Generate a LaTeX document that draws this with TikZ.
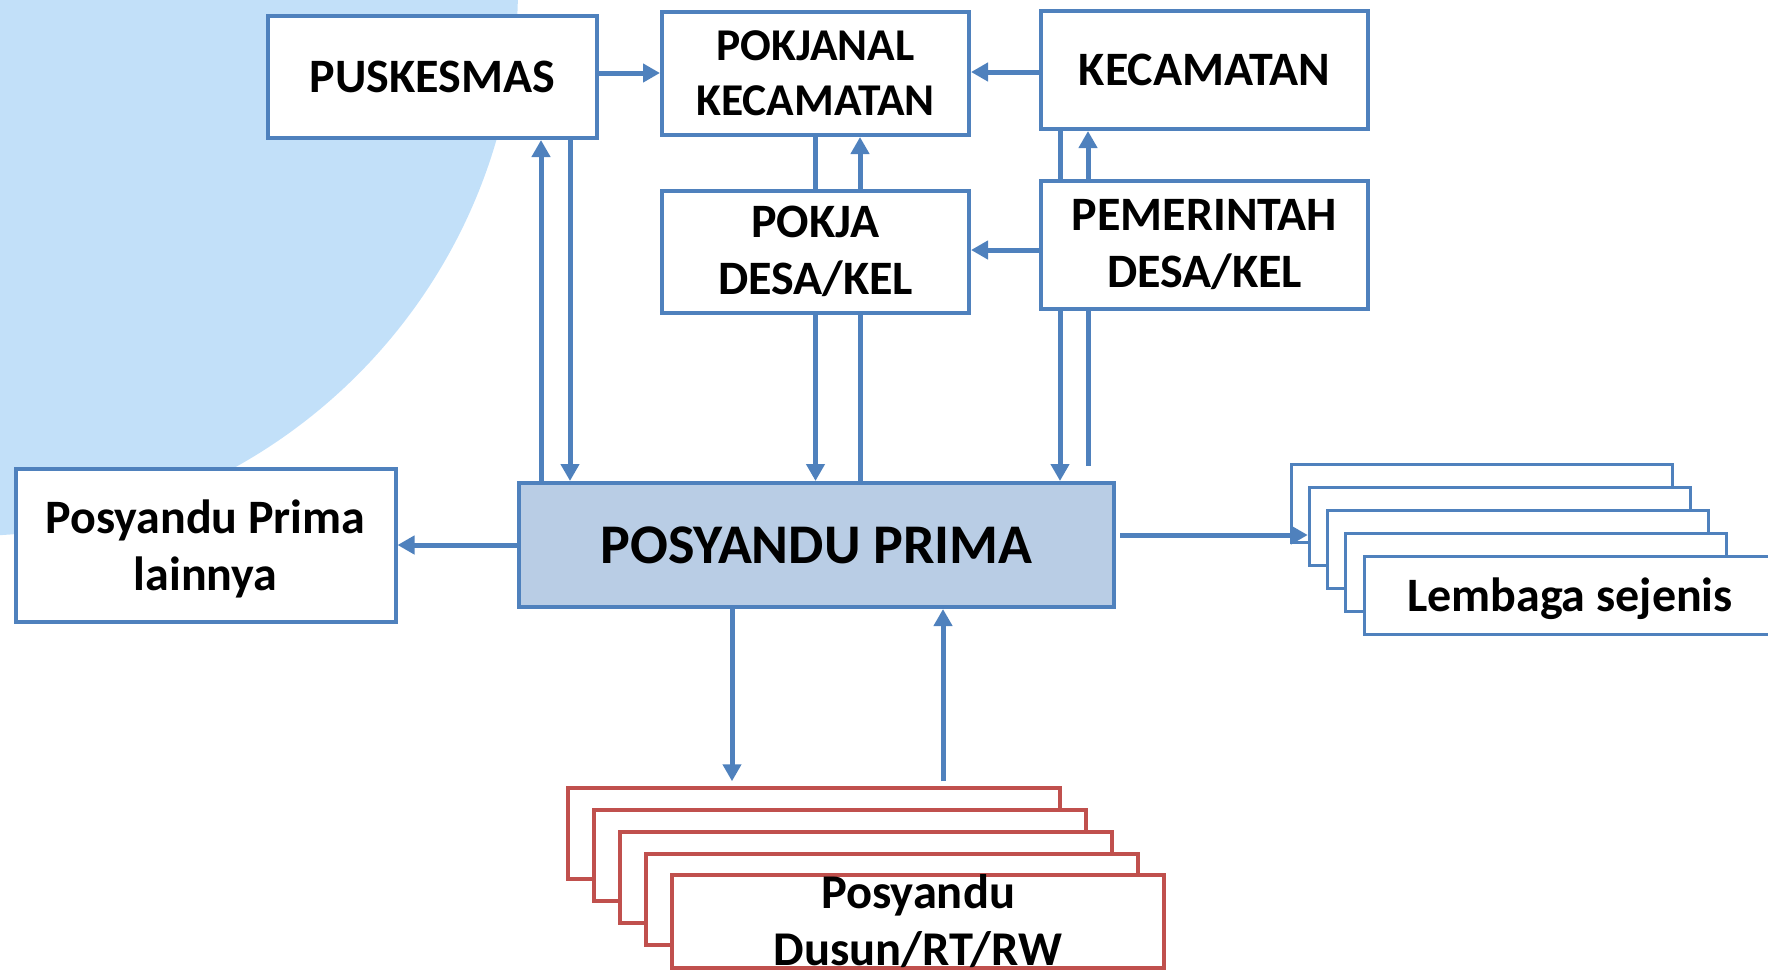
\documentclass[tikz,border=0pt]{standalone}
\usepackage{fontspec}
\setmainfont{Carlito}
\usetikzlibrary{arrows.meta}

\definecolor{lineblue}{RGB}{79,129,189}
\definecolor{linered}{RGB}{192,80,77}
\definecolor{primafill}{RGB}{185,205,229}
\definecolor{bgblue}{RGB}{194,224,249}

\tikzset{
  unit/.style={draw=lineblue, line width=4pt, fill=white, inner sep=0pt,
    align=center, font=\fontsize{48}{57}\selectfont\bfseries},
  lembox/.style={draw=lineblue, line width=3pt, fill=white, inner sep=0pt,
    minimum width=381pt, minimum height=78pt},
  dusbox/.style={draw=linered, line width=3.5pt, fill=white, inner sep=0pt,
    minimum width=492pt, minimum height=91pt, align=center,
    font=\fontsize{48.5}{57}\selectfont\bfseries},
  flow/.style={draw=lineblue, line width=5pt, -{Triangle[length=17pt,width=18pt]}},
  link/.style={draw=lineblue, line width=5pt},
}

\begin{document}
\begin{tikzpicture}[x=1pt, y=-1pt]
  \useasboundingbox (0,0) rectangle (1768,970);
  \clip (0,0) rectangle (1768,970);

  \fill[bgblue] (-31,-13) circle (549pt);

  \node[unit, minimum width=329pt, minimum height=122pt] (pusk) at (432.5,77) {PUSKESMAS};
  \node[unit, minimum width=307pt, minimum height=123pt,
        font=\fontsize{45.5}{55}\selectfont\bfseries] (pokjanal) at (815.5,73.5) {POKJANAL\\KECAMATAN};
  \node[unit, minimum width=327pt, minimum height=118pt] (kec) at (1204.5,70) {KECAMATAN};
  \node[unit, minimum width=307pt, minimum height=122pt] (pokja) at (815.5,251.5) {POKJA\\DESA/KEL};
  \node[unit, minimum width=327pt, minimum height=128pt] (pemdes) at (1204.5,244.5) {PEMERINTAH\\DESA/KEL};
  \node[unit, fill=primafill, minimum width=595pt, minimum height=124pt,
        font=\fontsize{56}{66}\selectfont\bfseries] (prima) at (816.5,545) {POSYANDU PRIMA};
  \node[unit, minimum width=380pt, minimum height=153pt, text depth=0pt] (lain) at (205.5,545) {Posyandu Prima\\lainnya};

  % lembaga sejenis
  \foreach \i in {1,...,4}
    \node[lembox] (lem\i) at ({1481.5+18.25*(\i-1)}, {503+23*(\i-1)}) {};
  \node[lembox, minimum width=412pt, text depth=0pt,
        font=\fontsize{48}{57}\selectfont\bfseries] (lem5) at (1570,595) {Lembaga sejenis};

  % posyandu dusun
  \foreach \i in {1,...,4}
    \node[dusbox] (dus\i) at ({814+26*(\i-1)}, {833.5+22*(\i-1)}) {};
  \node[dusbox] (dus5) at (918,921.5) {Posyandu\\Dusun/RT/RW};

  \draw[flow] ([yshift=4]pusk.east) -- ([yshift=4]pusk.east -| pokjanal.west);
  \draw[flow] ([yshift=-2]kec.west) -- ([yshift=-2]kec.west -| pokjanal.east);
  \draw[flow] ([yshift=-5.5]pemdes.west) -- ([yshift=-5.5]pemdes.west -| pokja.east);

  \draw[flow] ([xshift=108.5]pusk.south |- prima.north) -- ([xshift=108.5]pusk.south);
  \draw[flow] ([xshift=137.5]pusk.south) -- ([xshift=137.5]pusk.south |- prima.north);

  \draw[link] (pokja.north) -- (pokjanal.south);
  \draw[flow] ([xshift=44.5]pokja.north) -- ([xshift=44.5]pokjanal.south);
  \draw[flow] (pokja.south) -- (pokja.south |- prima.north);
  \draw[link] ([xshift=44.5]pokja.south |- prima.north) -- ([xshift=44.5]pokja.south);

  \draw[link] ([xshift=-144.5]pemdes.north) -- ([xshift=-144.5]kec.south);
  \draw[flow] ([xshift=-116.5]pemdes.north) -- ([xshift=-116.5]kec.south);
  \draw[flow] ([xshift=-144.5]pemdes.south) -- ([xshift=-144.5]pemdes.south |- prima.north);
  \draw[link, shorten >=15pt] ([xshift=-116.5]pemdes.south) -- ([xshift=-116.5]pemdes.south |- prima.north);

  \draw[flow] (prima.west) -- (lain.east);
  \draw[flow, shorten <=4pt] ([yshift=10]prima.east) -- ([yshift=10]prima.east -| lem2.west);

  \draw[flow, shorten >=5pt] ([xshift=-84.5]prima.south) -- ([xshift=-84.5]prima.south |- dus1.north);
  \draw[flow, shorten <=5pt] ([xshift=126.5]prima.south |- dus1.north) -- ([xshift=126.5]prima.south);
\end{tikzpicture}
\end{document}
